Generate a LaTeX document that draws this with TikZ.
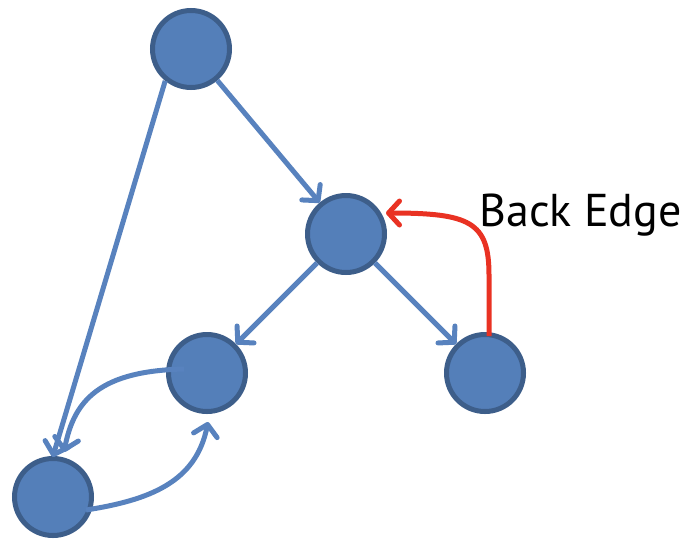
\documentclass[tikz,border=0pt]{standalone}
\usepackage{fontspec}
\setmainfont{PT Sans}
\usetikzlibrary{arrows.meta}
\definecolor{nodefill}{RGB}{84,127,185}
\definecolor{nodeborder}{RGB}{61,94,138}
\definecolor{edgeblue}{RGB}{88,130,190}
\definecolor{backred}{RGB}{233,50,35}
\begin{document}
\begin{tikzpicture}[x=1pt,y=-1pt,
  vert/.style={circle,fill=nodefill,draw=nodeborder,line width=5pt,minimum size=77pt,inner sep=0pt},
  tipstyle/.style={-{Straight Barb[length=11pt,width=24pt,line width=5pt,round]}},
  edge/.style={draw=edgeblue,line width=5pt,tipstyle},
  backedge/.style={draw=backred,line width=5pt,tipstyle}]
\useasboundingbox (0,0) rectangle (692,552);
\node[vert] (A) at (191,49) {};
\node[vert] (B) at (346,234) {};
\node[vert] (C) at (207,373) {};
\node[vert] (D) at (485,373) {};
\node[vert] (E) at (53,497) {};
\node[font=\fontsize{46}{50}\selectfont,anchor=base west] (L) at (476,226) {Back Edge};
\coordinate (cs) at (184,369);
\coordinate (ce) at (64,452);
\coordinate (es) at (86,510);
\coordinate (ee) at (208,422);
\coordinate (ds) at (489,336);
\coordinate (be) at (386,213);
% straight edges
\draw[edge] (A) -- (B);
\draw[edge, shorten >=-1pt] (A.231) -- (E.north);
\draw[edge] (B) -- (C);
\draw[edge] (B) -- (D);
% curved edges
\draw[edge] (cs) .. controls (100,371) and (74,400) .. (ce);
\draw[edge] (es) .. controls (150,500) and (196,482) .. (ee);
% back edge
\draw[backedge] (ds) -- (489,275) .. controls (489,222) and (470,213) .. (be);
\end{tikzpicture}
\end{document}
